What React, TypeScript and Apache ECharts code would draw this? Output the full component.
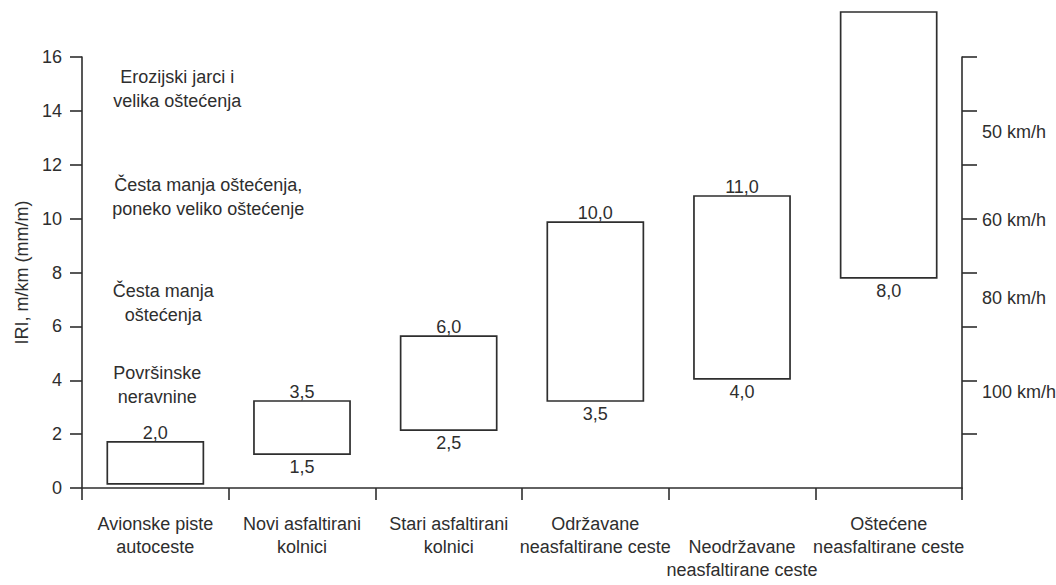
import React, { useEffect, useRef } from "react";
import * as echarts from "echarts";

const categories = [
  "Avionske piste\nautoceste",
  "Novi asfaltirani\nkolnici",
  "Stari asfaltirani\nkolnici",
  "Održavane\nneasfaltirane ceste",
  "Neodržavane\nneasfaltirane ceste",
  "Oštećene\nneasfaltirane ceste",
];
// drawn extent of each range box (IRI, m/km)
const barLow = [0.15, 1.26, 2.15, 3.23, 4.05, 7.8];
const barHigh = [1.71, 3.23, 5.64, 9.87, 10.84, 17.67];
const topLabels = ["2,0", "3,5", "6,0", "10,0", "11,0", ""];
const bottomLabels = ["", "1,5", "2,5", "3,5", "4,0", "8,0"];

const zoneTexts = [
  "Erozijski jarci i\nvelika oštećenja",
  "Česta manja oštećenja,\nponeko veliko oštećenje",
  "Česta manja\noštećenja",
  "Površinske\nneravnine",
];
const zoneLevels = [14.83, 10.82, 6.85, 3.82];

const speedLabels = ["50 km/h", "60 km/h", "80 km/h", "100 km/h"];
const speedLevels = [13.2, 9.95, 7.05, 3.56];
const speedTicks = [2, 4, 6, 8, 10, 12, 14, 16];

const loweredCategory = [false, false, false, false, true, false];
const zoneShift = [22, 53, 8, 2];

const FONT = "'Liberation Sans', Arial, Helvetica, sans-serif";
const INK = "#2e2e2e";
const FS = 18;

export default function App() {
  const ref = useRef<HTMLDivElement>(null);
  useEffect(() => {
    if (!ref.current) return;
    const chart = echarts.init(ref.current, undefined, { renderer: "svg" });
    const option: any = {
      animation: false,
      backgroundColor: "#ffffff",
      textStyle: { fontFamily: FONT, color: INK },
      grid: {
        left: 82,
        right: 94,
        top: 57,
        bottom: 97,
        containLabel: false,
        outerBoundsMode: "none",
      },
      xAxis: {
        type: "category",
        data: categories,
        boundaryGap: true,
        axisLine: { show: true, lineStyle: { color: INK, width: 1.6 } },
        axisTick: { show: true, alignWithLabel: false, length: 12, lineStyle: { color: INK, width: 1.6 } },
        axisLabel: {
          interval: 0,
          margin: 24,
          fontSize: FS,
          lineHeight: 23,
          color: INK,
          fontFamily: FONT,
          formatter: (v: string, i: number) => (loweredCategory[i] ? "\n" + v : v),
        },
        splitLine: { show: false },
      },
      yAxis: [
        {
          type: "value",
          min: 0,
          max: 16,
          interval: 2,
          position: "left",
          name: "IRI, m/km (mm/m)",
          nameLocation: "middle",
          nameGap: 50,
          nameRotate: 90,
          nameTextStyle: { fontSize: FS, color: INK, fontFamily: FONT },
          axisLine: { show: true, lineStyle: { color: INK, width: 1.6 } },
          axisTick: { show: true, length: 12, lineStyle: { color: INK, width: 1.6 } },
          axisLabel: { margin: 20, fontSize: FS, color: INK, fontFamily: FONT },
          splitLine: { show: false },
        },
        {
          type: "value",
          min: 0,
          max: 16,
          interval: 2,
          position: "right",
          axisLine: { show: true, lineStyle: { color: INK, width: 1.6 } },
          axisTick: { show: true, length: 15, customValues: speedTicks, lineStyle: { color: INK, width: 1.6 } },
          axisLabel: {
            margin: 20,
            fontSize: FS,
            color: INK,
            fontFamily: FONT,
            customValues: speedLevels,
            formatter: (v: number) => {
              const k = speedLevels.indexOf(v);
              return k >= 0 ? speedLabels[k] : "";
            },
          },
          splitLine: { show: false },
        },
      ],
      series: [
        {
          type: "custom",
          clip: false,
          encode: { x: 0, y: [1, 2] },
          data: categories.map((_, i) => [i, barLow[i], barHigh[i]]),
          renderItem: (params: any, api: any) => {
            const i = api.value(0);
            const lo = api.value(1);
            const hi = api.value(2);
            const p0 = api.coord([i, lo]);
            const p1 = api.coord([i, hi]);
            const band = api.size([1, 0])[0];
            const w = band * 0.655;
            const idx = params.dataIndex;
            return {
              type: "group",
              children: [
                {
                  type: "rect",
                  shape: { x: p0[0] - w / 2, y: p1[1], width: w, height: p0[1] - p1[1] },
                  style: { fill: "#ffffff", stroke: INK, lineWidth: 1.7 },
                },
                {
                  type: "text",
                  style: {
                    text: topLabels[idx],
                    x: p0[0],
                    y: p1[1] - 9,
                    align: "center",
                    verticalAlign: "middle",
                    fontSize: FS,
                    fontFamily: FONT,
                    fill: INK,
                  },
                },
                {
                  type: "text",
                  style: {
                    text: bottomLabels[idx],
                    x: p0[0],
                    y: p0[1] + 13,
                    align: "center",
                    verticalAlign: "middle",
                    fontSize: FS,
                    fontFamily: FONT,
                    fill: INK,
                  },
                },
              ],
            };
          },
        },
        {
          type: "custom",
          clip: false,
          encode: { x: 0, y: 1 },
          data: zoneLevels.map((v) => [0, v]),
          renderItem: (params: any, api: any) => {
            const p = api.coord([api.value(0), api.value(1)]);
            const idx = params.dataIndex;
            return {
              type: "text",
              style: {
                text: zoneTexts[idx],
                x: p[0] + zoneShift[idx],
                y: p[1],
                align: "center",
                verticalAlign: "middle",
                fontSize: FS,
                lineHeight: 24,
                fontFamily: FONT,
                fill: INK,
              },
            };
          },
        },
      ],
    };
    chart.setOption(option);
    return () => chart.dispose();
  }, []);
  return (
    <div
      ref={ref}
      style={{ position: "absolute", left: 0, top: 0, width: 1056, height: 585 }}
    />
  );
}
